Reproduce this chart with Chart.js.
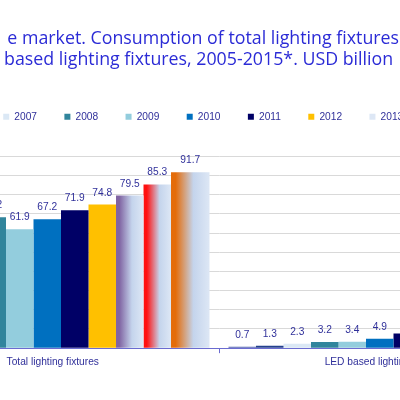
<!DOCTYPE html>
<html><head><meta charset="utf-8">
<script src="https://cdn.jsdelivr.net/npm/chart.js@4"></script>
<style>
html,body{margin:0;padding:0;width:400px;height:400px;overflow:hidden;background:#fff;}
#wrap{position:absolute;left:-200px;top:0;width:800px;height:400px;}
</style></head><body>
<div id="wrap"><canvas id="c" width="800" height="400"></canvas></div>
<script>
// ---- data ----
const categories = ['Total lighting fixtures', 'LED based lighting fixtures'];
const years = ['2005','2006','2007','2008','2009','2010','2011','2012','2013','2014','2015'];
const totalFixtures = [59.8, 62.4, 65.9, 68.2, 61.9, 67.2, 71.9, 74.8, 79.5, 85.3, 91.7];
const ledFixtures = [0.7, 1.3, 2.3, 3.2, 3.4, 4.9, 7.6, 11.5, 17.2, 24.3, 31.2];
const yTicks = {min: 0, max: 100, step: 10};
const titleLines = ['e market. Consumption of total lighting fixtures ', 'based lighting fixtures, 2005-2015*. USD billion   '];

// ---- styles ----
const barColors = ['#4f5fb0','#24408e','#dbe8f5','#31859c','#93cddd','#0070c0','#000066','#ffc000',
  ['#8064a2','#c4d4ec','#dde7f5','#b9b3d8'],
  ['#ff1010','#c4d4ec','#dde7f5','#f06a7a'],
  ['#e46c0a','#c4d4ec','#dde7f5','#e9a060']];
const barUnits = [1,1,1,1,1,1,1,1,1,1,1.4];
const groupFrac = 0.9429;
const sans = "'Liberation Sans',Arial,sans-serif";
const smallSize = 10.2;
const textBlue = '#30309a';
const axisBlue = '#6b6bd0';

const S = years.length + 1; // one empty spacer series keeps the stack count even
const totalUnits = barUnits.reduce((a,b)=>a+b,0);
const u = groupFrac/totalUnits;
const barOffset = [], barWidth = [], catPct = [], barPct = [];
let acc = -totalUnits/2;
barUnits.forEach((w,i)=>{
  const off = (acc + w/2)*u; acc += w;
  const k = i + 0.5 - S/2;
  barOffset.push(off); barWidth.push(w*u);
  const cp = off*S/k;
  catPct.push(cp); barPct.push(w*u*S/cp);
});

function bg(i){
  const c = barColors[i];
  if (!Array.isArray(c)) return c;
  return (ctx) => {
    const chart = ctx.chart, xs = chart.scales.x;
    if (ctx.type !== 'data' || !xs || !chart.chartArea) return c[3];
    const C = xs.width / categories.length;
    const center = xs.getPixelForValue(ctx.dataIndex) + barOffset[i]*C;
    const half = barWidth[i]*C/2;
    const g = chart.ctx.createLinearGradient(center-half,0,center+half,0);
    g.addColorStop(0,c[0]); g.addColorStop(0.12,c[0]);
    g.addColorStop(0.58,c[1]); g.addColorStop(1,c[2]);
    return g;
  };
}

const datasets = years.map((y,i)=>({
  label: y,
  data: [totalFixtures[i], ledFixtures[i]],
  backgroundColor: bg(i),
  categoryPercentage: catPct[i],
  barPercentage: barPct[i],
  xAxisID: 'x', yAxisID: 'y'
}));
datasets.push({label:'', data:[null,null], xAxisID:'x', yAxisID:'y'});

const valueLabels = {
  id: 'valueLabels',
  afterDatasetsDraw(chart){
    const ctx = chart.ctx;
    ctx.save();
    ctx.font = smallSize + "px " + sans;
    ctx.fillStyle = textBlue;
    ctx.textAlign = 'center';
    ctx.textBaseline = 'alphabetic';
    chart.data.datasets.forEach((ds,di)=>{
      if (!ds.label) return;
      chart.getDatasetMeta(di).data.forEach((el,j)=>{
        const v = ds.data[j];
        if (v == null) return;
        ctx.fillText(v.toFixed(1), el.x, el.y - 9);
      });
    });
    ctx.restore();
  }
};

new Chart(document.getElementById('c'), {
  type: 'bar',
  data: {labels: categories, datasets},
  plugins: [valueLabels],
  options: {
    responsive: false,
    animation: false,
    layout: {padding: {left: 53.5, right: 42.5, top: 0, bottom: 28.6}},
    plugins: {
      title: {display: true, text: titleLines, color: '#2b2bd6',
        font: {family: "'Open Sans'", size: 17.8, weight: 'normal', lineHeight: 1.13},
        padding: {top: 29.35, bottom: 14.65}},
      legend: {display: true, position: 'top', align: 'start',
        labels: {boxWidth: 6, boxHeight: 6, padding: 27.4, color: textBlue,
          font: {family: sans, size: smallSize},
          generateLabels(chart){
            return Chart.defaults.plugins.legend.labels.generateLabels(chart)
              .filter(it => it.text)
              .map(it => Object.assign(it, {lineWidth: 0}));
          }}},
      tooltip: {enabled: false}
    },
    scales: {
      x: {type: 'category', position: 'bottom', offset: true,
        grid: {display: true, drawOnChartArea: false, drawTicks: true, tickLength: 5, color: axisBlue, offset: true},
        border: {display: true, color: axisBlue, width: 1},
        ticks: {color: textBlue, padding: 3, maxRotation: 0, font: {family: sans, size: smallSize}}},
      x2: {type: 'category', position: 'top', display: true,
        grid: {display: false}, border: {display: false}, ticks: {display: false},
        afterFit(s){ s.height = 24.4; }},
      y: {type: 'linear', position: 'left', min: yTicks.min, max: yTicks.max,
        ticks: {display: false, stepSize: yTicks.step},
        grid: {color: '#d9d9d9', drawTicks: false},
        border: {display: false},
        afterFit(s){ s.width = 33; }},
      y2: {type: 'linear', position: 'right', display: true,
        grid: {display: false}, border: {display: false}, ticks: {display: false},
        afterFit(s){ s.width = 6; }}
    }
  }
});
</script>
</body></html>
